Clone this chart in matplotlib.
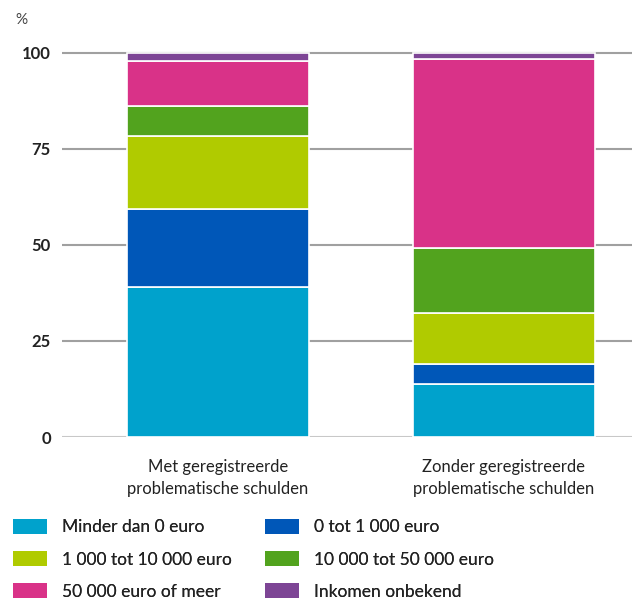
import matplotlib.pyplot as plt
from matplotlib.patches import Patch

plt.rcParams['font.family'] = ['Lato', 'DejaVu Sans']

groups = ["Met geregistreerde\nproblematische schulden",
          "Zonder geregistreerde\nproblematische schulden"]
categories = ["Minder dan 0 euro", "0 tot 1 000 euro", "1 000 tot 10 000 euro",
              "10 000 tot 50 000 euro", "50 000 euro of meer", "Inkomen onbekend"]
values = {
    "Minder dan 0 euro": [39.0, 13.8],
    "0 tot 1 000 euro": [20.4, 5.1],
    "1 000 tot 10 000 euro": [19.1, 13.3],
    "10 000 tot 50 000 euro": [7.7, 16.9],
    "50 000 euro of meer": [11.8, 49.3],
    "Inkomen onbekend": [2.0, 1.6],
}
colors = ["#00a2cc", "#0057b8", "#b0cb00", "#52a31e", "#d93288", "#7d4595"]
yticks = [0, 25, 50, 75, 100]

fig = plt.figure(figsize=(6.32, 6.02), dpi=100)
# axes: 0 at y=437px, 100 at y=53px, left edge at x=62px
ax = fig.add_axes([62 / 632, 165 / 602, 570 / 632, 399.4 / 602])

x = [0, 1]
bottom = [0, 0]
for cat, col in zip(categories, colors):
    ax.bar(x, values[cat], width=0.636, bottom=bottom, color=col,
           edgecolor="white", linewidth=1.2, zorder=3)
    bottom = [b + v for b, v in zip(bottom, values[cat])]

ax.set_xlim(-0.545, 1.448)
ax.set_ylim(0, 104)
for t in yticks:
    ax.axhline(t, color="#a0a0a0" if t else "#c8c8c8", linewidth=1.5, zorder=1)

ax.set_yticks(yticks)
ax.set_yticklabels([str(t) for t in yticks], fontsize=12, fontweight="bold",
                   color="#222222")
ax.tick_params(axis="y", length=0, pad=8)
ax.set_xticks(x)
ax.set_xticklabels(groups, fontsize=12, color="#222222", linespacing=1.45)
ax.tick_params(axis="x", length=0, pad=16)
for s in ax.spines.values():
    s.set_visible(False)

fig.text(15 / 632, 1 - 20 / 602, "%", fontsize=11, color="#444444", va="center")

handles = [Patch(facecolor=c, edgecolor="none") for c in colors]
for col, x0 in [(0, 13), (1, 265)]:
    idx = [col, col + 2, col + 4]
    leg = fig.legend([handles[i] for i in idx], [categories[i] for i in idx],
                     ncol=1, loc="upper left",
                     bbox_to_anchor=(x0 / 632, 1 - 519 / 602),
                     frameon=False, fontsize=12.5, handlelength=1.95,
                     handleheight=0.95, handletextpad=0.85, labelspacing=0.9,
                     labelcolor="#222222", borderaxespad=0, borderpad=0)
    fig.add_artist(leg)

fig.savefig("out.png", dpi=100)
